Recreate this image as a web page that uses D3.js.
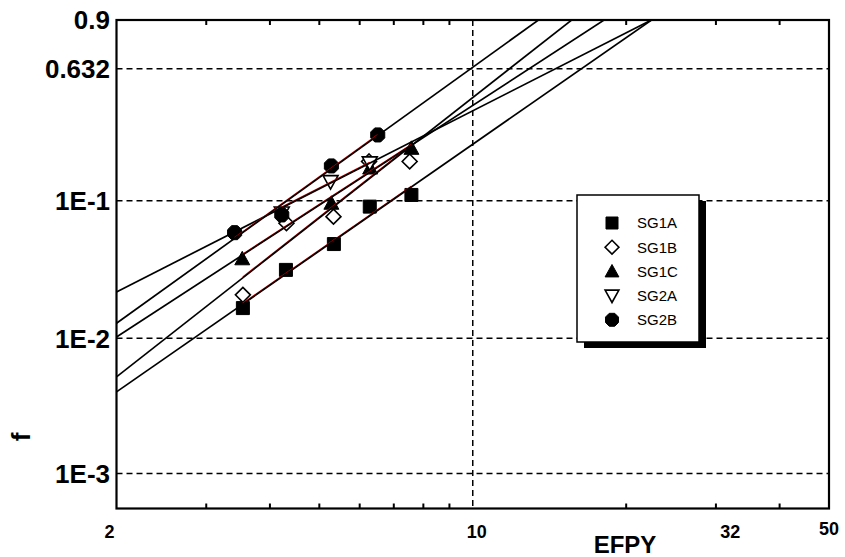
<!DOCTYPE html>
<html><head><meta charset="utf-8">
<script src="https://cdn.jsdelivr.net/npm/d3@7"></script>
<style>
body{margin:0;background:#fff;}
text{font-family:"Liberation Sans",Arial,sans-serif;}
</style></head>
<body><svg id="c" width="845" height="557"></svg>
<script>
// ---- data ----
const seriesNames = ["SG1A","SG1B","SG1C","SG2A","SG2B"];
const sg1aT = [3.54, 4.30, 5.34, 6.28, 7.58];
const sg1aF = [0.0167, 0.0318, 0.049, 0.0908, 0.1097];
const sg1bT = [3.54, 4.31, 5.33, 6.26, 7.52];
const sg1bF = [0.0209, 0.0692, 0.0771, 0.186, 0.186];
const sg1cT = [3.53, 5.28, 6.29, 7.58];
const sg1cF = [0.0383, 0.0959, 0.168, 0.227];
const sg2aT = [4.22, 5.26, 6.28];
const sg2aF = [0.0819, 0.1357, 0.182];
const sg2bT = [3.41, 4.22, 5.28, 6.51];
const sg2bF = [0.0592, 0.0793, 0.1736, 0.2765];
// Weibull fit parameters (shape beta, scale eta)
const fitBeta = [2.626, 2.962, 2.456, 1.921, 2.716];
const fitEta  = [16.33, 11.80, 12.89, 14.52, 9.9];
// axes
const xDomain = [2, 50];
const xMinorTicks = [3,4,5,6,7,8,9,20,30,40];
const xTickLabels = [2, 10, 32, 50];
const xGrid = [10];
const yDomainF = [0.00055, 0.9];
const yTickValues = [0.001, 0.01, 0.1, 0.632, 0.9];
const yTickLabels = ["1E-3","1E-2","1E-1","0.632","0.9"];
const yGrid = [0.001, 0.01, 0.1, 0.632];

// ---- setup ----
const W = f => Math.log(-Math.log(1 - f));
const L = 116.5, R = 829, T = 20, B = 508.5;
const x = d3.scaleLog().domain(xDomain).range([L, R]);
const y = d3.scaleLinear().domain(yDomainF.map(W)).range([B, T]);
const svg = d3.select("#c");

svg.append("defs").append("clipPath").attr("id","clip")
  .append("rect").attr("x",L).attr("y",T).attr("width",R-L).attr("height",B-T);

// grid
const g = svg.append("g");
g.selectAll(".hg").data(yGrid).join("line")
  .attr("x1",L).attr("x2",R).attr("y1",d=>y(W(d))).attr("y2",d=>y(W(d)))
  .attr("stroke","#000").attr("stroke-width",1.5).attr("stroke-dasharray","6,4");
g.selectAll(".vg").data(xGrid).join("line")
  .attr("x1",d=>x(d)).attr("x2",d=>x(d)).attr("y1",T).attr("y2",B)
  .attr("stroke","#000").attr("stroke-width",1.5).attr("stroke-dasharray","6,4");

// series
const series = [
  {t:sg1aT,f:sg1aF},{t:sg1bT,f:sg1bF},{t:sg1cT,f:sg1cF},{t:sg2aT,f:sg2aF},{t:sg2bT,f:sg2bF}
].map((s,i)=>({name:seriesNames[i], pts:s.t.map((t,j)=>({t, f:s.f[j]})), beta:fitBeta[i], eta:fitEta[i]}));

function shape(i, s){
  const h = s/2;
  switch(i){
    case 0: return `M${-h},${-h}H${h}V${h}H${-h}Z`;
    case 1: { const d=h*1.15; return `M0,${-d}L${d},0L0,${d}L${-d},0Z`; }
    case 2: { const a=h*1.15; return `M0,${-a}L${a},${a*0.8}L${-a},${a*0.8}Z`; }
    case 3: { const a=h*1.15; return `M0,${a}L${a},${-a*0.8}L${-a},${-a*0.8}Z`; }
    case 4: { const r=h*1.08, k=r*0.42; return `M${-k},${-r}L${k},${-r}L${r},${-k}L${r},${k}L${k},${r}L${-k},${r}L${-r},${k}L${-r},${-k}Z`; }
  }
}
const filled = [true,false,true,false,true];

// markers
const mk = svg.append("g");
series.forEach((s,i)=>{
  mk.selectAll(null).data(s.pts).join("path")
    .attr("transform",d=>`translate(${x(d.t)},${y(W(d.f))})`)
    .attr("d",shape(i,13))
    .attr("fill",filled[i]?"#000":"#fff")
    .attr("stroke","#000").attr("stroke-width",filled[i]?1:1.6);
});

// fit lines
const lg = svg.append("g").attr("clip-path","url(#clip)");
const line = d3.line().x(d=>x(d[0])).y(d=>y(d[1]));
series.forEach((s,i)=>{
  const fw = t => s.beta*Math.log(t/s.eta);
  const t0 = d3.min(s.pts,d=>d.t), t1 = d3.max(s.pts,d=>d.t);
  lg.append("path").attr("d",line([[t0,fw(t0)],[t1,fw(t1)]]))
    .attr("transform","translate(0,-0.6)")
    .attr("fill","none").attr("stroke","#e00000").attr("stroke-width",1.6);
  lg.append("path").attr("d",line([[xDomain[0],fw(xDomain[0])],[xDomain[1],fw(xDomain[1])]]))
    .attr("fill","none").attr("stroke","#000").attr("stroke-width",1.7);
});

// frame & ticks
svg.append("rect").attr("x",L).attr("y",T).attr("width",R-L).attr("height",B-T)
  .attr("fill","none").attr("stroke","#000").attr("stroke-width",2.2);
svg.selectAll(".tb").data(xMinorTicks).join("line")
  .attr("x1",d=>x(d)).attr("x2",d=>x(d)).attr("y1",B).attr("y2",B-5)
  .attr("stroke","#000").attr("stroke-width",2);
svg.selectAll(".tt").data(xMinorTicks).join("line")
  .attr("x1",d=>x(d)).attr("x2",d=>x(d)).attr("y1",T).attr("y2",T+5)
  .attr("stroke","#000").attr("stroke-width",2);

// labels
svg.selectAll(".yl").data(yTickValues).join("text")
  .attr("x",110).attr("y",d=>y(W(d))).attr("dy","0.36em")
  .attr("text-anchor","end").attr("font-weight","bold").attr("font-size",26)
  .text((d,i)=>yTickLabels[i]);
svg.selectAll(".xl").data(xTickLabels).join("text")
  .attr("x",(d,i)=>x(d) + (i===0?-7:(i===1?4:0))).attr("y",(d,i)=>i===3?535:538)
  .attr("text-anchor","middle").attr("font-weight","bold").attr("font-size",18)
  .text(d=>d);
svg.append("text").attr("x",625).attr("y",553).attr("text-anchor","middle")
  .attr("font-weight","bold").attr("font-size",24).text("EFPY");
svg.append("text").attr("transform","translate(30,437) rotate(-90)").attr("text-anchor","middle")
  .attr("font-weight","bold").attr("font-size",26).text("f");

// legend
const lx = 577, ly = 195, lw = 122, lh = 147;
svg.append("rect").attr("x",lx+7).attr("y",ly+6).attr("width",lw).attr("height",lh).attr("fill","#000");
svg.append("rect").attr("x",lx).attr("y",ly).attr("width",lw).attr("height",lh)
  .attr("fill","#fff").attr("stroke","#000").attr("stroke-width",1.5);
const leg = svg.append("g");
seriesNames.forEach((n,i)=>{
  const cy = 223 + i*24.2;
  leg.append("path").attr("transform",`translate(612,${cy})`).attr("d",shape(i,12))
    .attr("fill",filled[i]?"#000":"#fff").attr("stroke","#000").attr("stroke-width",filled[i]?1:1.6);
  leg.append("text").attr("x",637).attr("y",cy).attr("dy","0.36em").attr("font-size",15).text(n);
});
</script></body></html>
